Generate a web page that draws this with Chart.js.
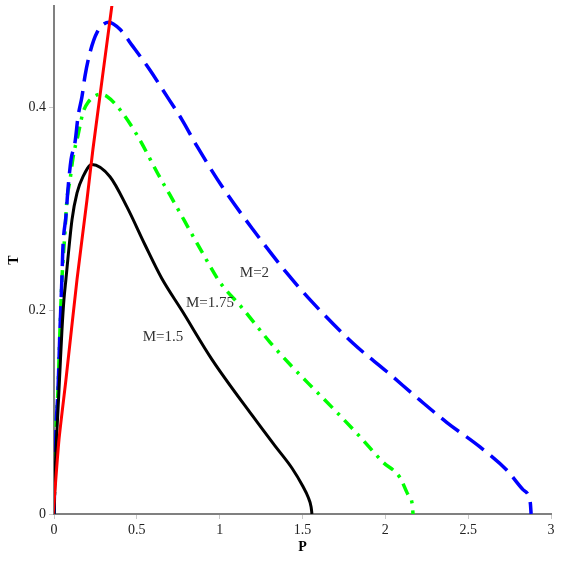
<!DOCTYPE html>
<html>
<head>
<meta charset="utf-8">
<script src="https://cdn.jsdelivr.net/npm/chart.js@4"></script>
<style>
  body { margin: 0; background: #fff; }
  #wrap { width: 561px; height: 561px; }
</style>
</head>
<body>
<div id="wrap"><canvas id="phaseChart"></canvas></div>
<script>
// curve values (P, T)
const m15P = [0, 0.006, 0.012, 0.024, 0.036, 0.048, 0.060, 0.072, 0.109, 0.139, 0.175, 0.229, 0.338, 0.441, 0.549, 0.650, 0.773, 0.954, 1.201, 1.334, 1.437, 1.503, 1.533, 1.552, 1.557];
const m15T = [0, 0.034, 0.063, 0.102, 0.142, 0.181, 0.211, 0.231, 0.290, 0.316, 0.332, 0.344, 0.332, 0.302, 0.265, 0.232, 0.200, 0.152, 0.096, 0.067, 0.045, 0.027, 0.017, 0.007, 0];

const m175P = [0, 0.006, 0.012, 0.024, 0.036, 0.048, 0.066, 0.078, 0.097, 0.115, 0.145, 0.175, 0.205, 0.278, 0.320, 0.398, 0.501, 0.640, 0.700, 0.893, 1.002, 1.135, 1.304, 1.437, 1.575, 1.708, 1.847, 1.986, 2.088, 2.137, 2.163, 2.167];
const m175T = [0, 0.043, 0.083, 0.122, 0.181, 0.231, 0.277, 0.309, 0.329, 0.351, 0.373, 0.395, 0.405, 0.413, 0.411, 0.398, 0.373, 0.331, 0.314, 0.258, 0.228, 0.203, 0.169, 0.145, 0.122, 0.100, 0.076, 0.051, 0.036, 0.019, 0.009, 0];

const m2P = [0, 0.006, 0.012, 0.024, 0.036, 0.048, 0.054, 0.072, 0.085, 0.103, 0.127, 0.145, 0.169, 0.187, 0.217, 0.260, 0.332, 0.398, 0.477, 0.579, 0.682, 0.773, 0.863, 1.020, 1.201, 1.406, 1.545, 1.805, 2.010, 2.209, 2.372, 2.571, 2.734, 2.831, 2.875, 2.880];
const m2T = [0, 0.043, 0.083, 0.122, 0.181, 0.233, 0.263, 0.293, 0.321, 0.349, 0.366, 0.391, 0.411, 0.431, 0.454, 0.474, 0.484, 0.477, 0.460, 0.437, 0.411, 0.388, 0.362, 0.321, 0.280, 0.237, 0.211, 0.168, 0.140, 0.112, 0.090, 0.066, 0.043, 0.024, 0.011, 0];

// line through the maxima
const peakP = [-0.005, 0.030, 0.072, 0.139, 0.199, 0.235, 0.350];
const peakT = [0, 0.073, 0.132, 0.231, 0.309, 0.359, 0.501];

const xTicks = [0, 0.5, 1, 1.5, 2, 2.5, 3];
const yTicks = [0, 0.2, 0.4];

const curveLabels = ["M=1.5", "M=1.75", "M=2"];
const labelP = [0.658, 0.942, 1.21];
const labelT = [0.174, 0.208, 0.237];

function pts(xs, ys) {
    return xs.map((x, i) => ({ x: x, y: ys[i] }));
}

Chart.defaults.font.family = "'Liberation Serif', 'Times New Roman', serif";
Chart.defaults.color = "#222";

const labelPlugin = {
    id: "curveLabels",
    afterDatasetsDraw(chart) {
        const ctx = chart.ctx;
        const xs = chart.scales.x, ys = chart.scales.y;
        ctx.save();
        ctx.font = "15px 'Liberation Serif', serif";
        ctx.fillStyle = "#333";
        ctx.textAlign = "center";
        ctx.textBaseline = "middle";
        curveLabels.forEach((txt, i) => {
            ctx.fillText(txt, xs.getPixelForValue(labelP[i]), ys.getPixelForValue(labelT[i]));
        });
        ctx.restore();
    }
};

const ctx = document.getElementById("phaseChart").getContext("2d");
new Chart(ctx, {
    type: "line",
    data: {
        datasets: [
            {
                data: pts(peakP, peakT),
                borderColor: "#ff0000",
                borderWidth: 3,
                pointRadius: 0,
                tension: 0.2
            },
            {
                data: pts(m15P, m15T),
                borderColor: "#000000",
                borderWidth: 3,
                pointRadius: 0,
                cubicInterpolationMode: "monotone"
            },
            {
                data: pts(m2P, m2T),
                borderColor: "#0000ff",
                borderWidth: 3.5,
                borderDash: [22, 9],
                pointRadius: 0,
                cubicInterpolationMode: "monotone"
            },
            {
                data: pts(m175P, m175T),
                borderColor: "#00ff00",
                borderWidth: 3.5,
                borderDash: [12, 7, 3, 7],
                pointRadius: 0,
                cubicInterpolationMode: "monotone"
            }
        ]
    },
    options: {
        responsive: true,
        maintainAspectRatio: false,
        animation: false,
        layout: { padding: { top: 6, right: 10, left: 0, bottom: 0 } },
        plugins: {
            legend: { display: false },
            tooltip: { enabled: false }
        },
        scales: {
            x: {
                type: "linear",
                min: 0,
                max: 3,
                afterBuildTicks: s => { s.ticks = xTicks.map(v => ({ value: v })); },
                afterFit: s => { s.height = 47; },
                grid: { drawOnChartArea: false, drawTicks: true, tickLength: 5, color: "#c8c8c8" },
                border: { color: "#808080", width: 2 },
                ticks: { font: { size: 14 }, padding: 3, maxRotation: 0, callback: v => String(v) },
                title: { display: true, text: "P", font: { size: 14, weight: "bold" }, color: "#000", padding: { top: 0, bottom: 5 } }
            },
            y: {
                type: "linear",
                min: 0,
                max: 0.5,
                afterBuildTicks: s => { s.ticks = yTicks.map(v => ({ value: v })); },
                afterFit: s => { s.width = 54; s.paddingTop = 0; s.paddingBottom = 0; },
                grid: { drawOnChartArea: false, drawTicks: true, tickLength: 5, color: "#c8c8c8" },
                border: { color: "#808080", width: 2 },
                ticks: { font: { size: 14 }, padding: 3, callback: v => String(v) },
                title: { display: true, text: "T", font: { size: 14, weight: "bold" }, color: "#000", padding: { top: 6, bottom: 0 } }
            }
        }
    },
    plugins: [labelPlugin]
});
</script>
</body>
</html>
